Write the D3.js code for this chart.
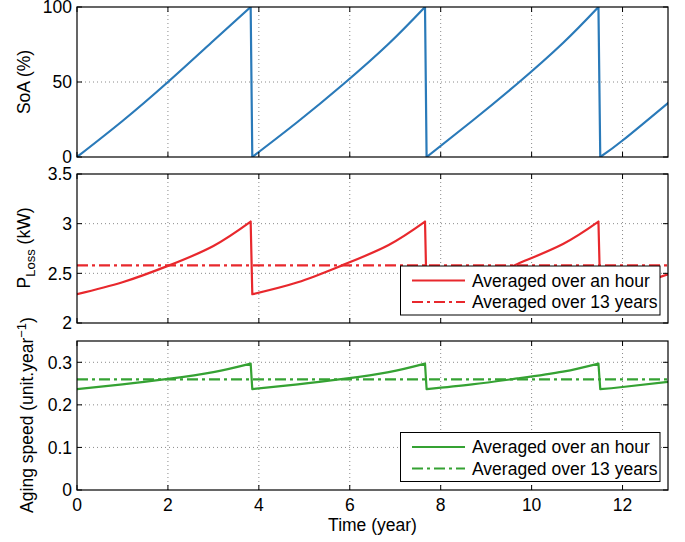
<!DOCTYPE html>
<html><head><meta charset="utf-8">
<script src="https://cdn.jsdelivr.net/npm/d3@7"></script>
<style>
body{margin:0;background:#fff}
text{font-family:"Liberation Sans",Arial,Helvetica,sans-serif;fill:#000}
</style>
</head><body>
<svg id="c" width="685" height="542"></svg>
<script>
// ---- data ----
const years  = [0, 1, 2, 3, 3.82,  3.856, 4.856, 5.856, 6.856, 7.655,  7.69, 8.69, 9.69, 10.69, 11.47,  11.51, 12, 13];
const soa    = [0, 24, 50, 77.5, 100,  0, 23.5, 48.5, 75.5, 100,  0, 24, 49, 76, 100,  0, 11, 36];
const pLoss  = [2.29, 2.41, 2.575, 2.775, 3.02,  2.29, 2.41, 2.585, 2.785, 3.02,  2.29, 2.41, 2.595, 2.795, 3.02,  2.29, 2.34, 2.49];
const aging  = [0.237, 0.248, 0.261, 0.277, 0.297,  0.237, 0.248, 0.261, 0.277, 0.297,  0.237, 0.248, 0.262, 0.278, 0.297,  0.237, 0.242, 0.254];
const pLossAvg = 2.58;
const agingAvg = 0.26;
const xTicks = [0, 2, 4, 6, 8, 10, 12];
const soaTicks = [0, 50, 100];
const pLossTicks = [2, 2.5, 3, 3.5];
const agingTicks = [0, 0.1, 0.2, 0.3];
const legendLabels = ["Averaged over an hour", "Averaged over 13 years"];

// ---- layout ----
const FS = 17.5;
const svg = d3.select("#c");
const L = 77, R = 668;
const x = d3.scaleLinear().domain([0, 13]).range([L, R]);
const panels = [
  {top: 7,   bottom: 157, domain: [0, 100],   ticks: soaTicks,   fmt: d3.format("d"), vals: soa,   color: "#2a7ab9"},
  {top: 174, bottom: 323, domain: [2, 3.5],   ticks: pLossTicks, fmt: d => d3.format("")(d), vals: pLoss, avg: pLossAvg, color: "#e8282d"},
  {top: 341, bottom: 490, domain: [0, 0.35],  ticks: agingTicks, fmt: d => d3.format("")(d), vals: aging, avg: agingAvg, color: "#35a233"}
];

function segments(vals) {
  const rises = [], drops = [];
  let cur = [0];
  for (let i = 1; i < vals.length; i++) {
    if (vals[i] < vals[i-1]) { rises.push(cur); drops.push([i-1, i]); cur = [i]; }
    else cur.push(i);
  }
  rises.push(cur);
  return {rises, drops};
}

panels.forEach((p, k) => {
  const y = d3.scaleLinear().domain(p.domain).range([p.bottom, p.top]);
  p.y = y;
  const g = svg.append("g");
  const clipId = "clip" + k;
  svg.append("clipPath").attr("id", clipId).append("rect")
    .attr("x", L).attr("y", p.top).attr("width", R - L).attr("height", p.bottom - p.top);

  // grid
  const grid = g.append("g").attr("stroke", "#8a8a8a").attr("stroke-width", 1).attr("stroke-dasharray", "1,3");
  xTicks.filter(t => t > 0).forEach(t => {
    grid.append("line").attr("x1", x(t)).attr("x2", x(t)).attr("y1", p.top).attr("y2", p.bottom);
  });
  p.ticks.filter(t => t > p.domain[0] && t < p.domain[1]).forEach(t => {
    grid.append("line").attr("x1", L).attr("x2", R).attr("y1", y(t)).attr("y2", y(t));
  });

  // data
  const dg = g.append("g").attr("clip-path", `url(#${clipId})`);
  if (p.avg !== undefined) {
    dg.append("line").attr("x1", x(0)).attr("x2", x(13)).attr("y1", y(p.avg)).attr("y2", y(p.avg))
      .attr("stroke", p.color).attr("stroke-width", 2.2).attr("stroke-dasharray", "11,4,3,4");
  }
  const {rises, drops} = segments(p.vals);
  const lineC = d3.line().x(i => x(years[i])).y(i => y(p.vals[i])).curve(d3.curveNatural);
  const lineL = d3.line().x(i => x(years[i])).y(i => y(p.vals[i]));
  let dstr = rises.map(s => lineC(s)).join("") + drops.map(s => lineL(s)).join("");
  dg.append("path").attr("d", dstr).attr("fill", "none").attr("stroke", p.color)
    .attr("stroke-width", 2.2).attr("stroke-linecap", "round").attr("stroke-linejoin", "round");

  // axes box
  g.append("rect").attr("x", L).attr("y", p.top).attr("width", R - L).attr("height", p.bottom - p.top)
    .attr("fill", "none").attr("stroke", "#000").attr("stroke-width", 1.2);

  // ticks (inside, mirrored)
  const tk = g.append("g").attr("stroke", "#000").attr("stroke-width", 1);
  xTicks.forEach(t => {
    tk.append("line").attr("x1", x(t)).attr("x2", x(t)).attr("y1", p.bottom).attr("y2", p.bottom - 5);
    tk.append("line").attr("x1", x(t)).attr("x2", x(t)).attr("y1", p.top).attr("y2", p.top + 5);
  });
  p.ticks.forEach(t => {
    tk.append("line").attr("x1", L).attr("x2", L + 5).attr("y1", y(t)).attr("y2", y(t));
    tk.append("line").attr("x1", R).attr("x2", R - 5).attr("y1", y(t)).attr("y2", y(t));
  });

  // y tick labels
  p.ticks.forEach(t => {
    g.append("text").attr("x", L - 5).attr("y", y(t)).attr("dy", "0.36em")
      .attr("text-anchor", "end").attr("font-size", FS).text(p.fmt(t));
  });
});

// x tick labels on bottom panel
xTicks.forEach(t => {
  svg.append("text").attr("x", x(t)).attr("y", 510.5).attr("text-anchor", "middle")
    .attr("font-size", FS).text(t);
});
svg.append("text").attr("x", (L + R) / 2).attr("y", 531).attr("text-anchor", "middle")
  .attr("font-size", FS).text("Time (year)");

// y axis labels
function ylabel(cx, cy, build) {
  const t = svg.append("text").attr("transform", `translate(${cx},${cy}) rotate(-90)`)
    .attr("text-anchor", "middle").attr("font-size", FS);
  build(t);
}
ylabel(30, 82, t => t.text("SoA (%)"));
ylabel(30, 248, t => {
  t.append("tspan").text("P");
  t.append("tspan").attr("font-size", 13).attr("dy", 5).text("Loss");
  t.append("tspan").attr("dy", -5).text(" (kW)");
});
ylabel(33, 415, t => {
  t.append("tspan").text("Aging speed (unit.year");
  t.append("tspan").attr("font-size", 13).attr("dy", -7).text("\u22121");
  t.append("tspan").attr("dy", 7).text(")");
});

// legends
function legend(p, top) {
  const bx = 400.5, bw = 259.5, bh = 49;
  const g = svg.append("g");
  g.append("rect").attr("x", bx).attr("y", top).attr("width", bw).attr("height", bh)
    .attr("fill", "#fff").attr("stroke", "#000").attr("stroke-width", 1);
  legendLabels.forEach((lab, i) => {
    const yy = top + 14.5 + i * 21.5;
    const ln = g.append("line").attr("x1", 412).attr("x2", 465).attr("y1", yy).attr("y2", yy)
      .attr("stroke", p.color).attr("stroke-width", 2.2);
    if (i === 1) ln.attr("stroke-dasharray", "11,4,3,4");
    g.append("text").attr("x", 472).attr("y", yy).attr("dy", "0.36em").attr("font-size", FS).text(lab);
  });
}
legend(panels[1], 266);
legend(panels[2], 432.5);
</script>
</body></html>
